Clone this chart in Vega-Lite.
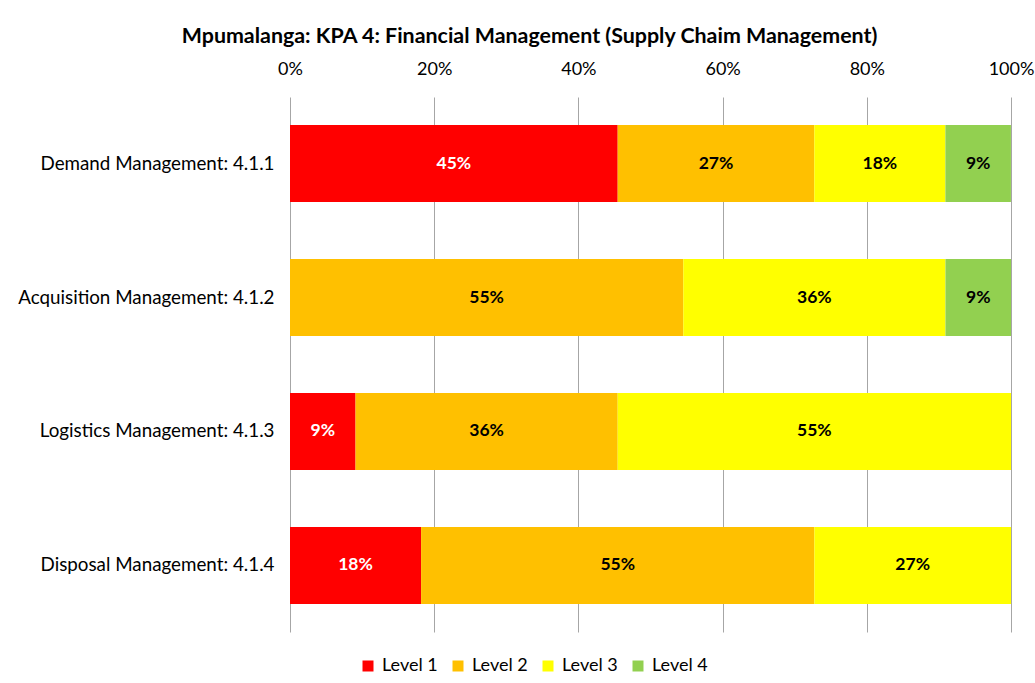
{
  "$schema": "https://vega.github.io/schema/vega-lite/v6.json",
  "width": 721,
  "height": 535,
  "autosize": {"type": "none"},
  "padding": {"left": 290, "top": 97, "right": 24, "bottom": 51},
  "background": "white",
  "config": {"font": "Lato", "view": {"stroke": null}},
  "title": {
    "text": "Mpumalanga: KPA 4: Financial Management (Supply Chaim Management)",
    "fontSize": 21.4,
    "fontWeight": "bold",
    "color": "black",
    "dx": -121,
    "offset": 13
  },
  "data": {
    "values": [
      {"category": "Demand Management: 4.1.1", "level": "Level 1", "value": 0.4545},
      {"category": "Demand Management: 4.1.1", "level": "Level 2", "value": 0.2727},
      {"category": "Demand Management: 4.1.1", "level": "Level 3", "value": 0.1818},
      {"category": "Demand Management: 4.1.1", "level": "Level 4", "value": 0.0909},
      {"category": "Acquisition Management: 4.1.2", "level": "Level 2", "value": 0.5455},
      {"category": "Acquisition Management: 4.1.2", "level": "Level 3", "value": 0.3636},
      {"category": "Acquisition Management: 4.1.2", "level": "Level 4", "value": 0.0909},
      {"category": "Logistics Management: 4.1.3", "level": "Level 1", "value": 0.0909},
      {"category": "Logistics Management: 4.1.3", "level": "Level 2", "value": 0.3636},
      {"category": "Logistics Management: 4.1.3", "level": "Level 3", "value": 0.5455},
      {"category": "Disposal Management: 4.1.4", "level": "Level 1", "value": 0.1818},
      {"category": "Disposal Management: 4.1.4", "level": "Level 2", "value": 0.5455},
      {"category": "Disposal Management: 4.1.4", "level": "Level 3", "value": 0.2727}
    ]
  },
  "transform": [
    {"stack": "value", "groupby": ["category"], "sort": [{"field": "level", "order": "ascending"}], "as": ["v0", "v1"]}
  ],
  "encoding": {
    "y": {
      "field": "category",
      "type": "nominal",
      "sort": ["Demand Management: 4.1.1", "Acquisition Management: 4.1.2", "Logistics Management: 4.1.3", "Disposal Management: 4.1.4"],
      "scale": {"paddingInner": 0.425, "paddingOuter": 0.209},
      "axis": {"title": null, "domain": false, "ticks": false, "labelFontSize": 18.8, "labelColor": "#000000", "labelPadding": 16, "labelLimit": 300}
    }
  },
  "layer": [
    {
      "mark": {"type": "bar"},
      "encoding": {
        "x": {
          "field": "v0",
          "type": "quantitative",
          "scale": {"domain": [0, 1], "nice": false},
          "axis": {
            "orient": "top",
            "title": null,
            "format": "%",
            "values": [0, 0.2, 0.4, 0.6, 0.8, 1],
            "domain": false,
            "ticks": false,
            "grid": true,
            "gridColor": "#a6a6a6",
            "labelFontSize": 18,
            "labelColor": "#000000",
            "labelPadding": 19,
            "labelFlush": false
          }
        },
        "x2": {"field": "v1"},
        "color": {
          "field": "level",
          "type": "nominal",
          "scale": {"domain": ["Level 1", "Level 2", "Level 3", "Level 4"], "range": ["#FF0000", "#FFC000", "#FFFF00", "#92D050"]},
          "legend": {
            "title": null,
            "orient": "none",
            "legendX": 69,
            "legendY": 560,
            "direction": "horizontal",
            "symbolType": "square",
            "symbolSize": 121,
            "symbolStrokeWidth": 0,
            "labelFontSize": 18,
            "labelOffset": 5,
            "labelColor": "#000000",
            "columnPadding": 11
          }
        }
      }
    },
    {
      "transform": [
        {"fold": ["v0", "v1"], "as": ["edge", "pos"]},
        {"aggregate": [{"op": "mean", "field": "pos", "as": "mid"}], "groupby": ["category", "level", "value"]}
      ],
      "mark": {"type": "text", "fontWeight": "bold", "fontSize": 17.5},
      "encoding": {
        "x": {"field": "mid", "type": "quantitative"},
        "text": {"field": "value", "type": "quantitative", "format": ".0%"},
        "color": {"condition": {"test": "datum.level === 'Level 1'", "value": "#FFFFFF"}, "value": "#000000"}
      }
    }
  ]
}
